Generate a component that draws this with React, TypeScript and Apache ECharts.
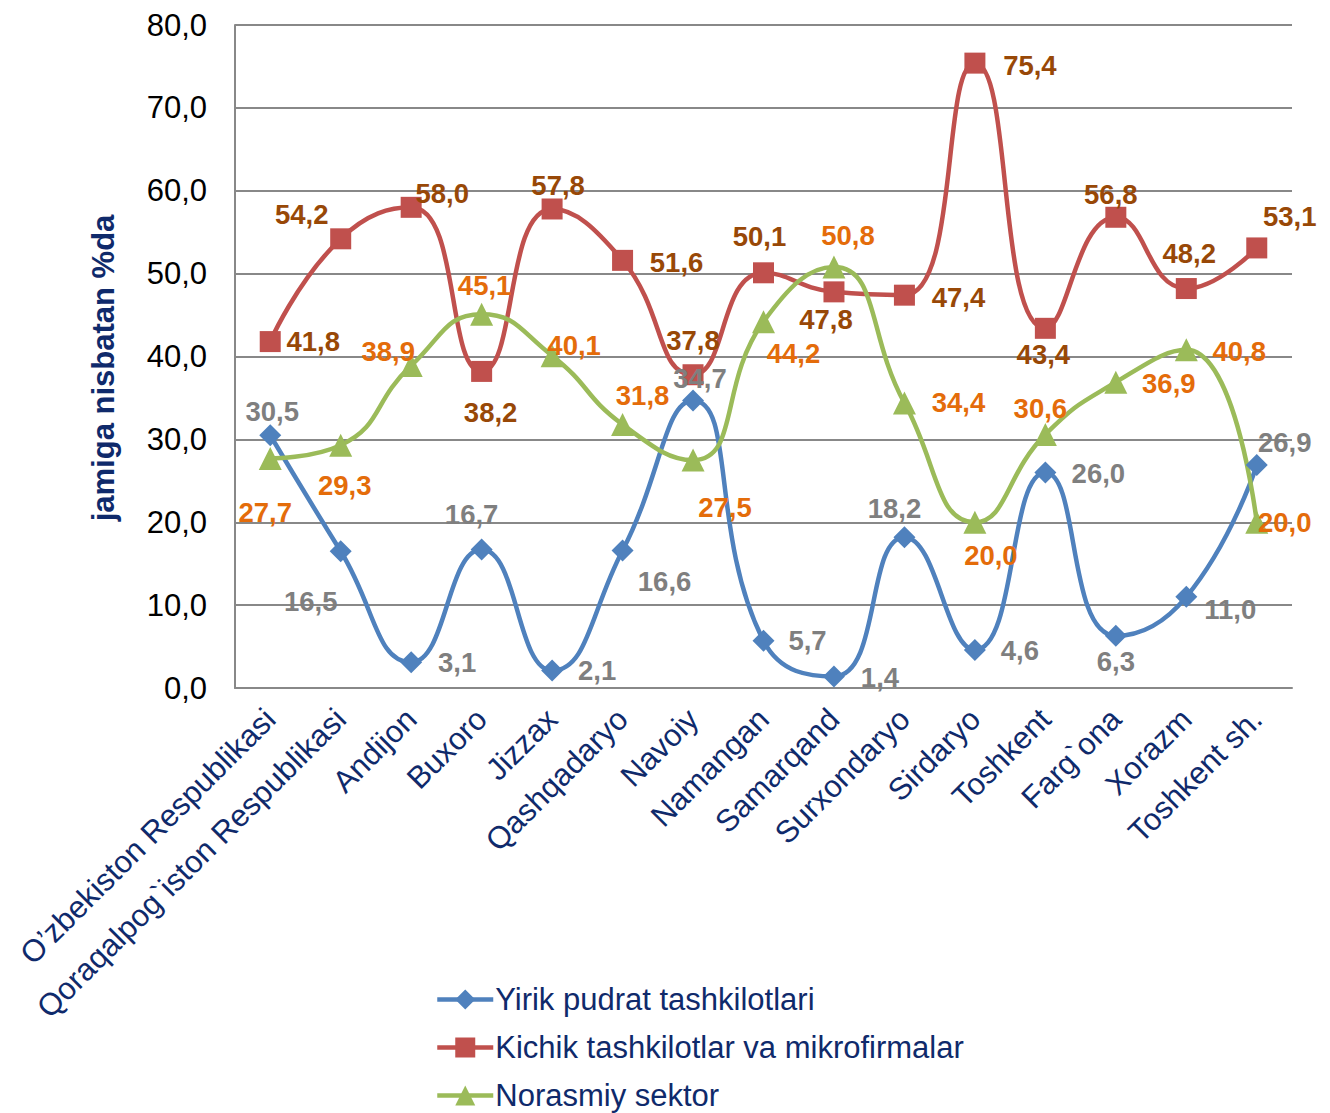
import React, { useEffect, useRef } from "react";
import * as echarts from "echarts";

const categories = [
  "O\u2019zbekiston Respublikasi",
  "Qoraqalpog`iston Respublikasi",
  "Andijon",
  "Buxoro",
  "Jizzax",
  "Qashqadaryo",
  "Navoiy",
  "Namangan",
  "Samarqand",
  "Surxondaryo",
  "Sirdaryo",
  "Toshkent",
  "Farg`ona",
  "Xorazm",
  "Toshkent sh.",
];

const seriesNames = [
  "Yirik pudrat tashkilotlari",
  "Kichik tashkilotlar va mikrofirmalar",
  "Norasmiy sektor",
];

const yirikValues = [30.5, 16.5, 3.1, 16.7, 2.1, 16.6, 34.7, 5.7, 1.4, 18.2, 4.6, 26.0, 6.3, 11.0, 26.9];
const kichikValues = [41.8, 54.2, 58.0, 38.2, 57.8, 51.6, 37.8, 50.1, 47.8, 47.4, 75.4, 43.4, 56.8, 48.2, 53.1];
const norasmiyValues = [27.7, 29.3, 38.9, 45.1, 40.1, 31.8, 27.5, 44.2, 50.8, 34.4, 20.0, 30.6, 36.9, 40.8, 20.0];

const yTicks = { min: 0, max: 80, interval: 10 };
const yAxisTitle = "jamiga nisbatan %da";

// label placement (layout only): [dx, dy] from marker centre
const yirikOffsets = [
  [2, -24], [-30, 50], [46, 0], [-10, -35], [45, 0], [42, 31], [7, -22], [44, 0],
  [46, 1], [-10, -29], [45, 1], [53, 1], [0, 26], [44, 13], [28, -23],
];
const kichikOffsets = [
  [43, 0], [-39, -24], [31, -14], [9, 41], [6, -23], [54, 2], [0, -34], [-4, -36],
  [-8, 28], [54, 2], [55, 2], [-2, 26], [-5, -23], [3, -35], [33, -31],
];
const norasmiyOffsets = [
  [-5, 54], [4, 40], [-23, -14], [3, -29], [22, -10], [20, -29], [32, 47], [30, 32],
  [14, -31], [54, 0], [16, 33], [-5, -26], [53, 1], [53, 2], [28, 0],
];

const fmt = (v: number) => v.toFixed(1).replace(".", ",");
const FONT = "'Liberation Sans', Arial, sans-serif";
const NAVY = "#0F2A6B";

function makeSeries(
  name: string,
  values: number[],
  offsets: number[][],
  color: string,
  labelColor: string,
  symbol: string,
  symbolSize: number
) {
  return {
    name,
    type: "line",
    smooth: 0.5,
    symbol,
    symbolSize,
    itemStyle: { color },
    lineStyle: { color, width: 4.5 },
    label: {
      show: true,
      position: "inside",
      color: labelColor,
      fontFamily: FONT,
      fontWeight: "bold",
      fontSize: 27.5,
      formatter: (p: any) => fmt(p.value),
    },
    data: values.map((v, i) => ({
      value: v,
      label: { offset: offsets[i] },
    })),
    z: 2,
  };
}

export default function App() {
  const ref = useRef<HTMLDivElement>(null);

  useEffect(() => {
    if (!ref.current) return;
    const chart = echarts.init(ref.current, undefined, { renderer: "svg" });
    chart.setOption({
      animation: false,
      backgroundColor: "#ffffff",
      grid: { left: 235, right: 38, top: 25, bottom: 425, containLabel: false },
      graphic: [
        {
          type: "text",
          x: 103,
          y: 368,
          rotation: Math.PI / 2,
          style: {
            text: yAxisTitle,
            fill: NAVY,
            font: `bold 31px ${FONT}`,
            textAlign: "center",
            textVerticalAlign: "middle",
          },
        },
      ],
      legend: {
        orient: "vertical",
        left: 435,
        top: 984,
        padding: 0,
        height: 200,
        itemGap: 17,
        itemWidth: 56,
        itemHeight: 25,
        lineStyle: { width: 4.5 },
        textStyle: { color: NAVY, fontFamily: FONT, fontSize: 31, padding: [0, 0, 0, -3] },
        data: seriesNames,
      },
      xAxis: {
        type: "category",
        data: categories,
        boundaryGap: true,
        axisLine: { show: true, lineStyle: { color: "#888888", width: 2 } },
        axisTick: { show: false },
        axisLabel: {
          interval: 0,
          rotate: 45,
          margin: 26,
          color: NAVY,
          fontFamily: FONT,
          fontSize: 31,
        },
      },
      yAxis: {
        type: "value",
        min: yTicks.min,
        max: yTicks.max,
        interval: yTicks.interval,
        axisLine: { show: true, lineStyle: { color: "#888888", width: 2 } },
        axisTick: { show: false },
        splitLine: { show: true, lineStyle: { color: "#888888", width: 2 } },
        axisLabel: {
          color: "#000000",
          fontFamily: FONT,
          fontSize: 31,
          margin: 28,
          formatter: (v: number) => fmt(v),
        },
      },
      series: [
        makeSeries(seriesNames[0], yirikValues, yirikOffsets, "#4F81BD", "#7F7F7F", "diamond", 22),
        makeSeries(seriesNames[1], kichikValues, kichikOffsets, "#C0504D", "#984807", "rect", 21),
        makeSeries(seriesNames[2], norasmiyValues, norasmiyOffsets, "#9BBB59", "#E46C0A", "triangle", 23),
      ],
    });
    return () => chart.dispose();
  }, []);

  return (
    <div
      ref={ref}
      style={{ position: "fixed", left: 0, top: 0, width: 1330, height: 1113 }}
    />
  );
}
